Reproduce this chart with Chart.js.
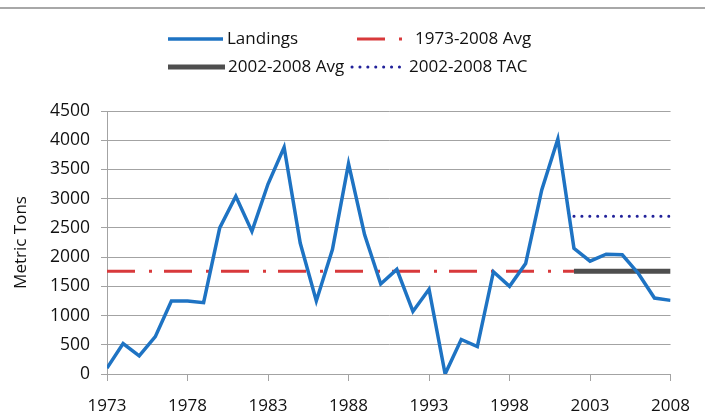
<!DOCTYPE html>
<html>
<head>
<meta charset="utf-8">
<title>Landings</title>
<script src="https://cdn.jsdelivr.net/npm/chart.js@4.4.1/dist/chart.umd.min.js"></script>
<style>
  html, body { margin: 0; padding: 0; background: #fff; }
  #wrap { width: 705px; height: 415px; position: relative; }
</style>
</head>
<body>
<div id="wrap"><canvas id="c" width="705" height="415"></canvas></div>
<script>
// Annual landings, metric tons
const years = [1973, 1974, 1975, 1976, 1977, 1978, 1979, 1980, 1981, 1982, 1983, 1984,
               1985, 1986, 1987, 1988, 1989, 1990, 1991, 1992, 1993, 1994, 1995, 1996,
               1997, 1998, 1999, 2000, 2001, 2002, 2003, 2004, 2005, 2006, 2007, 2008];
const landings = [100, 520, 310, 640, 1250, 1250, 1220, 2500, 3040, 2440, 3250, 3880,
                  2240, 1250, 2130, 3600, 2380, 1540, 1790, 1070, 1450, 0, 590, 470,
                  1750, 1500, 1890, 3150, 4020, 2150, 1930, 2050, 2040, 1720, 1300, 1260];

// Reference levels
const avgLongLabel = "1973-2008 Avg";
const avgLongSpan = [1973, 2002];
const avgLongValue = 1760;
const avgRecentLabel = "2002-2008 Avg";
const avgRecentSpan = [2002, 2008];
const avgRecentValue = 1760;
const tacLabel = "2002-2008 TAC";
const tacSpan = [2002, 2008];
const tacValue = 2700;

// Axis ticks
const xTicks = [1973, 1978, 1983, 1988, 1993, 1998, 2003, 2008];
const yTicks = [0, 500, 1000, 1500, 2000, 2500, 3000, 3500, 4000, 4500];

const FONT = "'Open Sans', 'Lato', sans-serif";
const TEXT = '#111111';
const GRID = '#a3a3a3';

const span = (range, v) => range.map(x => ({ x: x, y: v }));

// Two-row legend drawn above the plot, using each dataset's own line style
const legendLayout = [
  { ds: 0, x0: 168, x1: 223, tx: 227, y: 39 },
  { ds: 1, x0: 357, x1: 403, tx: 415, y: 39 },
  { ds: 2, x0: 168, x1: 225, tx: 228, y: 67 },
  { ds: 3, x0: 352, x1: 404, tx: 409, y: 67 }
];

const frameAndLegend = {
  id: 'frameAndLegend',
  beforeDraw(chart) {
    const ctx = chart.ctx;
    ctx.save();
    ctx.fillStyle = '#fff';
    ctx.fillRect(0, 0, chart.width, chart.height);
    ctx.strokeStyle = '#a8a8a8';
    ctx.lineWidth = 2;
    ctx.beginPath();
    ctx.moveTo(0, 8);
    ctx.lineTo(chart.width, 8);
    ctx.stroke();
    ctx.restore();
  },
  afterDraw(chart) {
    const ctx = chart.ctx;
    ctx.save();
    legendLayout.forEach(item => {
      const ds = chart.data.datasets[item.ds];
      ctx.strokeStyle = ds.borderColor;
      ctx.lineWidth = ds.borderWidth;
      ctx.lineCap = ds.borderCapStyle || 'butt';
      ctx.setLineDash(ds.borderDash || []);
      ctx.beginPath();
      ctx.moveTo(item.x0, item.y);
      ctx.lineTo(item.x1, item.y);
      ctx.stroke();
      ctx.setLineDash([]);
      ctx.fillStyle = TEXT;
      ctx.font = "17px " + FONT;
      ctx.textBaseline = 'middle';
      ctx.textAlign = 'left';
      ctx.fillText(ds.label, item.tx, item.y);
    });
    ctx.restore();
  }
};

new Chart(document.getElementById('c'), {
  type: 'line',
  data: {
    datasets: [
      {
        label: 'Landings',
        data: years.map((y, i) => ({ x: y, y: landings[i] })),
        borderColor: '#1e73c3',
        borderWidth: 3.5,
        pointRadius: 0,
        tension: 0,
        borderJoinStyle: 'miter'
      },
      {
        label: avgLongLabel,
        data: span(avgLongSpan, avgLongValue),
        borderColor: '#d8393b',
        borderWidth: 3,
        borderDash: [28, 14, 3, 12],
        borderCapStyle: 'butt',
        pointRadius: 0
      },
      {
        label: avgRecentLabel,
        data: span(avgRecentSpan, avgRecentValue),
        borderColor: '#4e4e4e',
        borderWidth: 5,
        pointRadius: 0
      },
      {
        label: tacLabel,
        data: span(tacSpan, tacValue),
        borderColor: '#22229a',
        borderWidth: 3,
        borderDash: [0.1, 7.8],
        borderCapStyle: 'round',
        pointRadius: 0
      }
    ]
  },
  options: {
    responsive: false,
    animation: false,
    layout: { padding: { left: 0, top: 111, right: 30, bottom: 0 } },
    plugins: {
      legend: { display: false },
      tooltip: { enabled: false }
    },
    scales: {
      x: {
        type: 'linear',
        min: years[0],
        max: years[years.length - 1],
        afterBuildTicks: s => { s.ticks = xTicks.map(v => ({ value: v })); },
        afterFit: s => { s.height = 41; },
        grid: { drawOnChartArea: false, color: GRID, tickLength: 7, lineWidth: 1 },
        border: { color: GRID, width: 1 },
        ticks: {
          color: TEXT,
          font: { family: FONT, size: 17 },
          padding: 15,
          maxRotation: 0,
          callback: v => String(v)
        }
      },
      y: {
        min: 0,
        max: 4500,
        afterBuildTicks: s => { s.ticks = yTicks.map(v => ({ value: v })); },
        afterFit: s => { s.width = 107; },
        grid: { color: GRID, tickLength: 6, lineWidth: 1 },
        border: { color: GRID, width: 1 },
        ticks: {
          color: TEXT,
          font: { family: FONT, size: 17.5 },
          padding: 11,
          callback: v => String(v)
        },
        title: {
          display: true,
          text: 'Metric Tons',
          color: TEXT,
          font: { family: FONT, size: 17 },
          padding: { top: 11, bottom: 0 }
        }
      }
    }
  },
  plugins: [frameAndLegend]
});
</script>
</body>
</html>
